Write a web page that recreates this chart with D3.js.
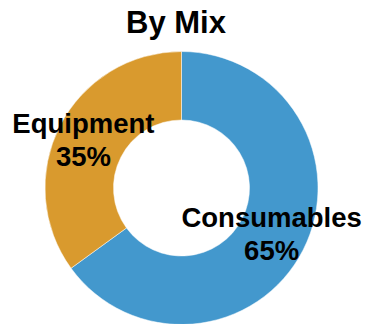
<!DOCTYPE html>
<html>
<head>
<meta charset="utf-8">
<script src="https://cdn.jsdelivr.net/npm/d3@7"></script>
<style>
  html, body { margin: 0; padding: 0; background: #fff; }
  svg { display: block; }
  text { font-family: "Liberation Sans", Arial, sans-serif; font-weight: bold; fill: #000; }
</style>
</head>
<body>
<svg id="chart" width="368" height="324"></svg>
<script>
const title = "By Mix";
const categories = ["Consumables", "Equipment"];
const values = [65, 35];
const colors = ["#4398cd", "#d99a2e"];

const W = 368, H = 324;
const cx = 181.5, cy = 188, outerR = 136.5, innerR = 68;

const svg = d3.select("#chart");

svg.append("text")
  .attr("x", 176)
  .attr("y", 33)
  .attr("text-anchor", "middle")
  .style("font-size", "31px")
  .text(title);

const data = categories.map((c, i) => ({ name: c, value: values[i], color: colors[i] }));

const pie = d3.pie().value(d => d.value).sort(null);
const arc = d3.arc().innerRadius(innerR).outerRadius(outerR);

const g = svg.append("g").attr("transform", `translate(${cx},${cy})`);

const arcs = pie(data);

g.selectAll("path")
  .data(arcs)
  .join("path")
  .attr("d", arc)
  .attr("fill", d => d.data.color)
  .attr("stroke", "#fff")
  .attr("stroke-width", 0.5);

const labelNudge = { "Equipment": [-7, -2], "Consumables": [-1, 0] };

const lab = g.selectAll("g.label")
  .data(arcs)
  .join("g")
  .attr("class", "label")
  .attr("transform", d => {
    const [x, y] = arc.centroid(d);
    const n = labelNudge[d.data.name] || [0, 0];
    return `translate(${x + n[0]},${y + n[1]})`;
  });

lab.append("text")
  .attr("text-anchor", "middle")
  .attr("y", -7)
  .style("font-size", "27.5px")
  .text(d => d.data.name);

lab.append("text")
  .attr("text-anchor", "middle")
  .attr("y", 26)
  .style("font-size", "27.5px")
  .text(d => d.data.value + "%");
</script>
</body>
</html>
